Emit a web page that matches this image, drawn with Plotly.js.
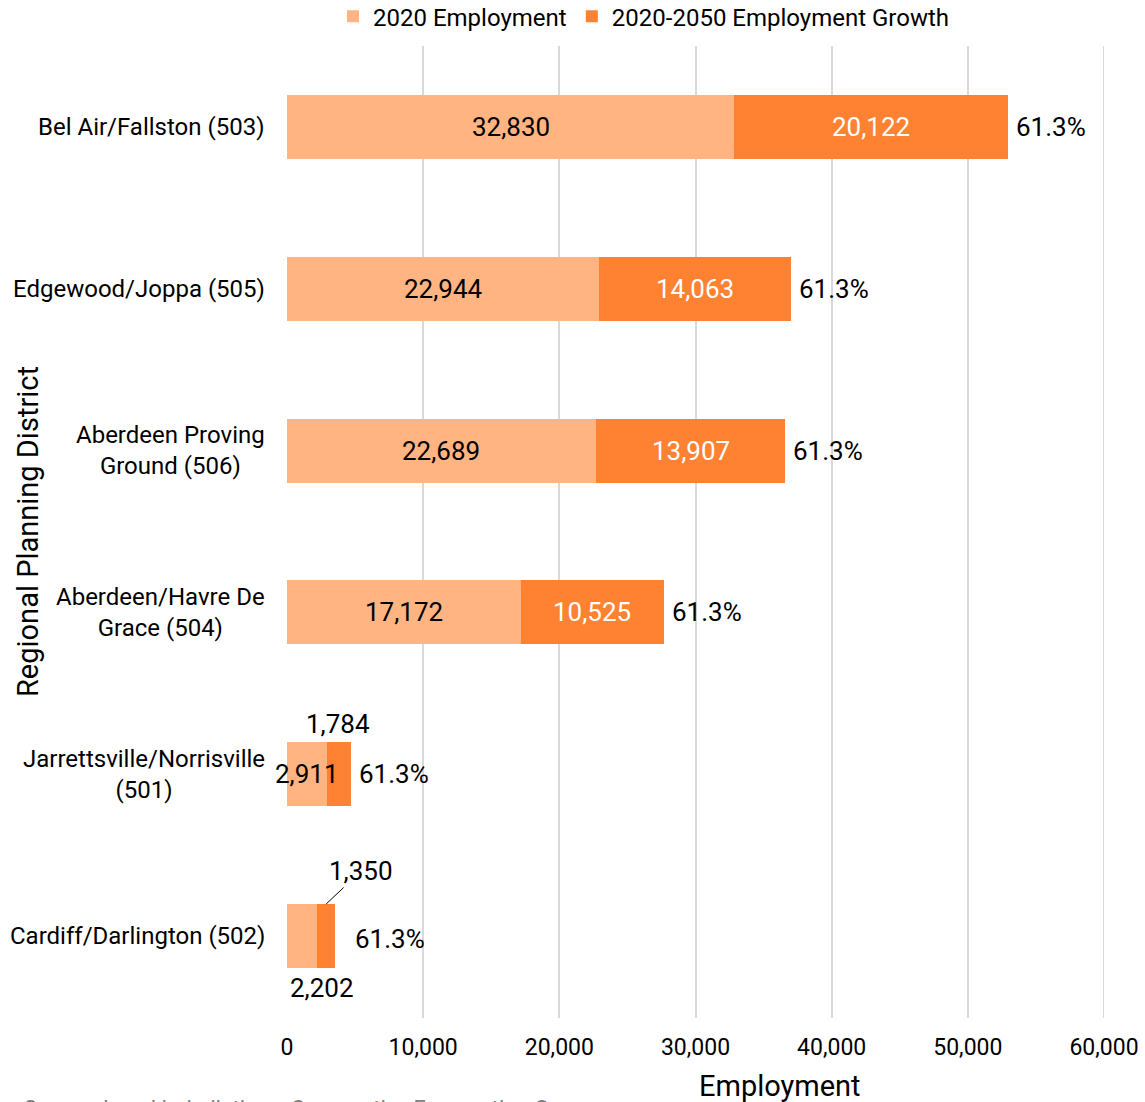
<!DOCTYPE html>
<html>
<head>
<meta charset="utf-8">
<script src="https://cdn.plot.ly/plotly-3.0.1.min.js"></script>
<style>html,body{margin:0;padding:0;background:#fff;}#chart{width:1145px;height:1102px;}</style>
</head>
<body>
<div id="chart"></div>
<script>
const categories = ["Bel Air/Fallston (503)", "Edgewood/Joppa (505)", "Aberdeen Proving Ground (506)", "Aberdeen/Havre De Grace (504)", "Jarrettsville/Norrisville (501)", "Cardiff/Darlington (502)"];
const categoryLabels = ["Bel Air/Fallston (503)", "Edgewood/Joppa (505)", "Aberdeen Proving<br>Ground (506)", "Aberdeen/Havre De<br>Grace (504)", "Jarrettsville/Norrisville<br>(501)", "Cardiff/Darlington (502)"];
const employment2020 = [32830, 22944, 22689, 17172, 2911, 2202];
const growth20202050 = [20122, 14063, 13907, 10525, 1784, 1350];
const growthPct = ["61.3%", "61.3%", "61.3%", "61.3%", "61.3%", "61.3%"];
const xTicks = [0, 10000, 20000, 30000, 40000, 50000, 60000];

const FONT = "Roboto, 'Open Sans', sans-serif";
const LIGHT = "#FFB482";
const DARK = "#FF8232";
const VAL = 26;

const traces = [
  {type: "bar", orientation: "h", name: "2020 Employment", y: categories, x: employment2020,
   marker: {color: LIGHT}, width: 0.395},
  {type: "bar", orientation: "h", name: "2020-2050 Employment Growth", y: categories, x: growth20202050,
   marker: {color: DARK}, width: 0.395}
];

const fmt = v => v.toLocaleString("en-US");
const ann = [];
categories.forEach((c, i) => {
  ann.push({xref: "paper", x: 0, xshift: -20, xanchor: "right", yref: "y", y: c, yanchor: "middle",
    text: categoryLabels[i], align: "center", showarrow: false, font: {family: FONT, size: 24, color: "#000"}});
});
categories.forEach((c, i) => {
  const a = employment2020[i], b = growth20202050[i];
  const total = a + b;
  const f = col => ({family: FONT, size: VAL, color: col});
  if (i < 4) {
    ann.push({x: a / 2, y: c, text: fmt(a), showarrow: false, font: f("#000")});
    ann.push({x: a + b / 2, y: c, text: fmt(b), showarrow: false, font: f("#fff")});
    ann.push({x: total, y: c, xanchor: "left", xshift: 6, text: growthPct[i], showarrow: false, font: f("#000")});
  } else if (i === 4) {
    ann.push({x: a / 2, y: c, text: fmt(a), showarrow: false, font: f("#000")});
    ann.push({x: a + b / 2, y: c, yshift: 50, xshift: -1, text: fmt(b), showarrow: false, font: f("#000")});
    ann.push({x: total, y: c, xanchor: "left", xshift: 6, text: growthPct[i], showarrow: false, font: f("#000")});
  } else {
    ann.push({x: a / 2, y: c, yshift: -52, xshift: 20, text: fmt(a), showarrow: false, font: f("#000")});
    ann.push({x: a + b / 2, y: c, yshift: 32, text: fmt(b), showarrow: true, arrowhead: 0, arrowwidth: 1, arrowcolor: "#000",
      ax: 35, ay: -33, font: f("#000")});
    ann.push({x: total, y: c, xanchor: "left", xshift: 18, yshift: -3, text: growthPct[i], showarrow: false, font: f("#000")});
  }
});
ann.push({xref: "paper", yref: "paper", x: -0.317, xanchor: "center", y: 0.5, yanchor: "middle", textangle: -90, text: "Regional Planning District",
  showarrow: false, font: {family: FONT, size: 29, color: "#000"}});
ann.push({xref: "paper", yref: "paper", x: 0.603, xanchor: "center", y: -0.07, yanchor: "middle", text: "Employment",
  showarrow: false, font: {family: FONT, size: 29, color: "#000"}});
ann.push({xref: "paper", yref: "paper", x: -0.324, xanchor: "left", y: -0.078, yanchor: "top",
  text: "Source: Local jurisdictions, Cooperative Forecasting Group", showarrow: false,
  font: {family: FONT, size: 22, color: "#7f7f7f"}});

const layout = {
  width: 1145, height: 1102,
  margin: {l: 287, r: 41, t: 46, b: 84, autoexpand: false},
  paper_bgcolor: "#fff", plot_bgcolor: "#fff",
  barmode: "stack",
  font: {family: FONT, color: "#000"},
  showlegend: true,
  legend: {orientation: "h", x: 0.437, xanchor: "center", y: 1.0302, yanchor: "middle",
    font: {family: FONT, size: 24, color: "#000"}, traceorder: "normal", itemwidth: 30},
  xaxis: {range: [0, 60000], tickvals: xTicks, ticktext: xTicks.map(fmt), showgrid: true, gridcolor: "#D9D9D9", gridwidth: 2,
    zeroline: false, showline: false, ticks: "", tickfont: {family: FONT, size: 23, color: "#000"}, ticklabelstandoff: 13, layer: "below traces"},
  yaxis: {type: "category", categoryorder: "array", categoryarray: categories, autorange: "reversed",
    showticklabels: false, showgrid: false, zeroline: false, showline: false, ticks: ""},
  shapes: [{type: "line", xref: "x", yref: "paper", x0: xTicks[xTicks.length - 1], x1: xTicks[xTicks.length - 1], y0: 0, y1: 1,
    line: {color: "#D9D9D9", width: 2}, layer: "below"}],
  annotations: ann
};
Plotly.newPlot("chart", traces, layout, {displayModeBar: false, staticPlot: true});
</script>
</body>
</html>
